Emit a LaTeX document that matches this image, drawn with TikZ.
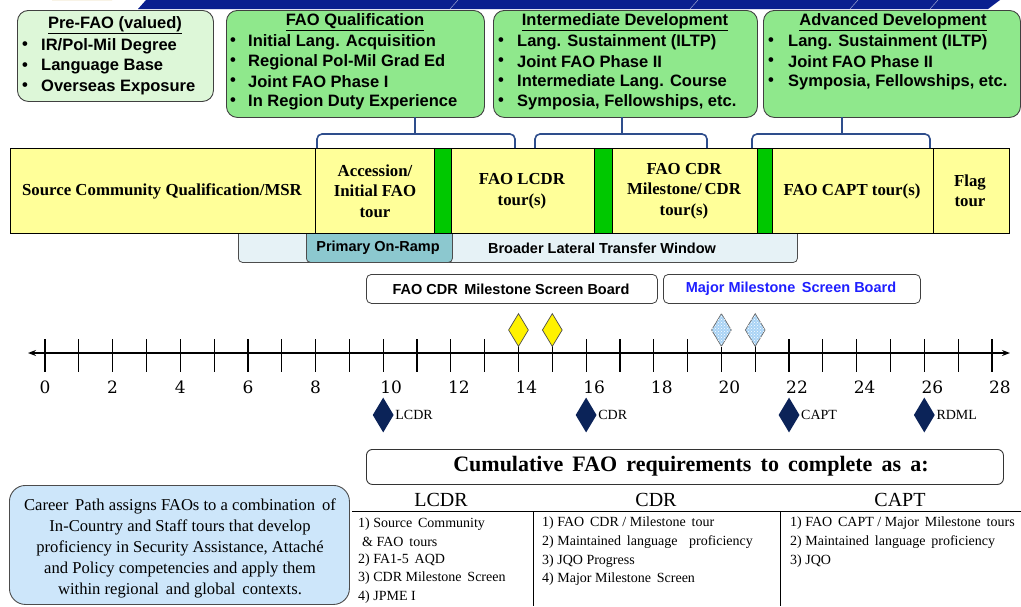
\documentclass[tikz,border=0pt]{standalone}
\usepackage{fontspec}
\setmainfont{Liberation Serif}
\newfontfamily\arial{Liberation Sans}
\newfontfamily\slab{DejaVu Serif}
\usetikzlibrary{shapes.geometric,patterns,arrows.meta}
\definecolor{prefaofill}{HTML}{DDF7D8}
\definecolor{faogreen}{HTML}{8FE88C}
\definecolor{baryellow}{HTML}{FFFF99}
\definecolor{bargreen}{HTML}{00C800}
\definecolor{bracecol}{HTML}{2E4D8C}
\definecolor{latfill}{HTML}{E6F2F6}
\definecolor{onramp}{HTML}{8CC8CF}
\definecolor{navy}{HTML}{0B2358}
\definecolor{pathblue}{HTML}{CDE6FA}
\definecolor{boardblue}{HTML}{1F1FFF}
\definecolor{hatchblue}{HTML}{A9D3F5}
\definecolor{bannerblue}{HTML}{0A1F8F}
\definecolor{gold}{HTML}{C9A43A}
\begin{document}
\begin{tikzpicture}[x=1pt,y=-1pt,
  topbox/.style={draw=black!75, line width=0.9pt, rounded corners=11pt, anchor=north west, inner sep=0pt},
  boxtitle/.style={font=\arial\bfseries\fontsize{16.5}{18}\selectfont, inner sep=0pt},
  bul/.style={font=\arial\bfseries\fontsize{16.5}{18}\selectfont, inner sep=0pt},
  itemtxt/.style={font=\arial\bfseries\fontsize{16.5}{18}\selectfont, anchor=west, inner sep=0pt},
  seg/.style={draw=black, line width=1pt, fill=baryellow, anchor=north west, inner sep=0pt, minimum height=85pt},
  gseg/.style={draw=black, line width=1pt, fill=bargreen, anchor=north west, inner sep=0pt, minimum height=85pt},
  segtxt/.style={font=\bfseries\fontsize{16.8}{20.5}\selectfont, align=center, inner sep=0pt},
  brace/.style={draw=bracecol, line width=1.6pt, rounded corners=5pt},
  ramp/.style={draw=black!70, line width=0.8pt, rounded corners=4pt, anchor=north west, inner sep=0pt},
  ramptxt/.style={font=\arial\bfseries\fontsize{14.5}{16}\selectfont, inner sep=0pt},
  board/.style={draw=black!75, line width=0.8pt, rounded corners=5pt, anchor=north west, inner sep=0pt, minimum height=29pt},
  boardtxt/.style={font=\arial\bfseries\fontsize{14.5}{16}\selectfont, inner sep=0pt},
  ticklbl/.style={font=\slab\fontsize{17}{18}\selectfont, inner sep=0pt},
  ydiam/.style={diamond, draw=black!70, line width=0.7pt, fill=yellow, inner sep=0pt, minimum width=20pt, minimum height=33pt},
  bdiam/.style={diamond, draw=black!60, line width=0.7pt, fill=hatchblue, inner sep=0pt, minimum width=20pt, minimum height=33pt},
  ndiam/.style={diamond, fill=navy, inner sep=0pt, minimum width=21pt, minimum height=35pt},
  rank/.style={font=\fontsize{14}{16}\selectfont, anchor=west, inner sep=0pt},
  colhead/.style={font=\fontsize{20}{22}\selectfont, inner sep=0pt},
  req/.style={font=\fontsize{14}{15}\selectfont, anchor=west, inner sep=0pt},
]
\useasboundingbox (0,0) rectangle (1021,606);
\fill[white] (0,0) rectangle (1021,606);

% ---------- banner remnant ----------
\fill[gold] (52,0) arc[start angle=180, end angle=360, x radius=30pt, y radius=-6pt] -- cycle;
\fill[bannerblue] (138,9) -- (146,0) -- (1000,0) -- (988,9) -- cycle;
\draw[white!60!bannerblue, line width=0.5pt] (450,9) -- (458,0) (690,9) -- (698,0) (850,9) -- (858,0) (930,9) -- (938,0);

% ---------- top boxes ----------
\node[topbox, fill=prefaofill, minimum width=196pt, minimum height=91pt] (prefao) at (17,10) {};
\node[boxtitle] (prefaoT) at (115,25) {\underline{Pre-FAO (valued)}};
\foreach \y/\t [count=\i] in {46/{IR/Pol-Mil Degree}, 67/Language Base, 87/Overseas Exposure}{
  \node[bul] (pb\i) at (25,\y) {•};
  \node[itemtxt] (pi\i) at (41,\y) {\t};
}

\node[topbox, fill=faogreen, minimum width=258pt, minimum height=107pt] (faoq) at (226,10) {};
\node[boxtitle] (faoqT) at (355,22) {\underline{FAO Qualification}};
\foreach \y/\t [count=\i] in {42/Initial Lang. Acquisition, 62/Regional Pol-Mil Grad Ed, 82/Joint FAO Phase I, 102/In Region Duty Experience}{
  \node[bul] (qb\i) at (233,\y) {•};
  \node[itemtxt] (qi\i) at (248,\y) {\t};
}

\node[topbox, fill=faogreen, minimum width=264pt, minimum height=107pt] (inter) at (493,10) {};
\node[boxtitle] (interT) at (625,22) {\underline{Intermediate Development}};
\foreach \y/\t [count=\i] in {42/Lang. Sustainment (ILTP), 62/Joint FAO Phase II, 82/Intermediate Lang. Course, 102/{Symposia, Fellowships, etc.}}{
  \node[bul] (ib\i) at (501,\y) {•};
  \node[itemtxt] (ii\i) at (517,\y) {\t};
}

\node[topbox, fill=faogreen, minimum width=257pt, minimum height=107pt] (adv) at (763,10) {};
\node[boxtitle] (advT) at (893,22) {\underline{Advanced Development}};
\foreach \y/\t [count=\i] in {42/Lang. Sustainment (ILTP), 62/Joint FAO Phase II, 82/{Symposia, Fellowships, etc.}}{
  \node[bul] (ab\i) at (771,\y) {•};
  \node[itemtxt] (ai\i) at (788,\y) {\t};
}

% ---------- lateral transfer window (under bar) ----------
\node[ramp, fill=latfill, minimum width=559pt, minimum height=38pt] (lateral) at (238,224) {};
\node[ramp, fill=onramp, minimum width=146pt, minimum height=38pt] (onramp) at (306,224) {};
\node[ramptxt] (onrampT) at (378,248) {Primary On-Ramp};
\node[ramptxt] (lateralT) at (602,248) {Broader Lateral Transfer Window};

% ---------- career bar ----------
\node[seg, minimum width=305pt] (s1) at (10,148) {};
\node[seg, minimum width=119pt] (s2) at (315,148) {};
\node[gseg, minimum width=17pt] (g1) at (434,148) {};
\node[seg, minimum width=143pt] (s3) at (451,148) {};
\node[gseg, minimum width=18pt] (g2) at (594,148) {};
\node[seg, minimum width=145pt] (s4) at (612,148) {};
\node[gseg, minimum width=15pt] (g3) at (757,148) {};
\node[seg, minimum width=161pt] (s5) at (772,148) {};
\node[seg, minimum width=76pt] (s6) at (933,148) {};
\node[segtxt] (t1) at (162,191) {Source Community Qualification/MSR};
\node[segtxt] (t2) at (375,191) {Accession/\\Initial FAO\\tour};
\node[segtxt] (t3) at (522,191) {FAO LCDR\\tour(s)};
\node[segtxt] (t4) at (684,191) {FAO CDR\\Milestone/\,CDR\\tour(s)};
\node[segtxt] (t5) at (852,191) {FAO CAPT tour(s)};
\node[segtxt] (t6) at (970,191) {Flag\\tour};

% ---------- braces ----------
\coordinate (b1l) at (317,148); \coordinate (b1r) at (515,148); \coordinate (b1t) at (415,117);
\coordinate (b2l) at (535,148); \coordinate (b2r) at (707,148); \coordinate (b2t) at (622,117);
\coordinate (b3l) at (752,148); \coordinate (b3r) at (930,148); \coordinate (b3t) at (842,117);
\foreach \k in {1,2,3}{
  \draw[brace] (b\k l) -- (b\k l |- 0,134) -- (b\k r |- 0,134) -- (b\k r);
  \draw[bracecol, line width=1.6pt] (b\k t) -- (b\k t |- 0,134);
}

% ---------- screen boards ----------
\node[board, minimum width=291pt] (cdrboard) at (366,274) {};
\node[boardtxt] (cdrboardT) at (511,289) {FAO CDR\, Milestone Screen Board};
\node[board, minimum width=257pt] (majboard) at (663,274) {};
\node[boardtxt, text=boardblue] (majboardT) at (791,289) {Major Milestone\, Screen Board};

% ---------- axis ----------
\coordinate (axL) at (28,353); \coordinate (axR) at (1010,353);
\draw[line width=1.6pt, -{Stealth[length=8pt,width=6pt]}] (axL -| 40,0) -- (axR);
\draw[line width=1.6pt, -{Stealth[length=8pt,width=6pt]}] (axR -| 990,0) -- (axL);
\foreach \t in {0,...,28}{
  \draw[line width=1.2pt] ({45+33.82*\t},339) -- ({45+33.82*\t},372);
}
\foreach \t in {0,2,4,6,8}{
  \node[ticklbl] (n\t) at ({45+33.82*\t},387) {\t};
}
\foreach \t in {10,12,...,28}{
  \node[ticklbl] (n\t) at ({53+33.82*\t},387) {\t};
}

% milestone diamonds
\node[ydiam] (y14) at ({45+33.82*14},330) {};
\node[ydiam] (y15) at ({45+33.82*15},330) {};
\node[bdiam] (h20) at ({45+33.82*20},330) {};
\node[bdiam] (h21) at ({45+33.82*21},330) {};
\foreach \n in {h20,h21}{
  \path[pattern=crosshatch dots, pattern color=white] (\n.north) -- (\n.east) -- (\n.south) -- (\n.west) -- cycle;
}
\foreach \t/\r in {10/LCDR,16/CDR,22/CAPT,26/RDML}{
  \node[ndiam] (r\t) at ({45+33.82*\t},415) {};
  \node[rank] (rl\t) at ({57+33.82*\t},415) {\r};
}

% ---------- cumulative requirements ----------
\node[draw=black!80, line width=0.9pt, rounded corners=6pt, anchor=north west, inner sep=0pt, minimum width=637pt, minimum height=35pt] (cum) at (366,449) {};
\node[font=\bfseries\fontsize{22}{24}\selectfont, inner sep=0pt] (cumT) at (691,466) {Cumulative\, FAO\, requirements\, to\, complete\, as\, a:};
\node[colhead] (hL) at (441,500) {LCDR};
\node[colhead] (hC) at (656,500) {CDR};
\node[colhead] (hP) at (900,500) {CAPT};
\coordinate (tl) at (352,511); \coordinate (tr) at (1021,511);
\coordinate (v1t) at (533,511); \coordinate (v1b) at (533,606);
\coordinate (v2t) at (780,511); \coordinate (v2b) at (780,606);
\draw[line width=0.9pt] (tl) -- (tr);
\draw[line width=0.9pt] (v1t) -- (v1b);
\draw[line width=0.9pt] (v2t) -- (v2b);
\node[req] (l1) at (358,524) {1) Source\, Community};
\node[req] (l1b) at (362,542) {\& FAO\, tours};
\node[req] (l2) at (358,560) {2) FA1-5\, AQD};
\node[req] (l3) at (358,578) {3) CDR Milestone\, Screen};
\node[req] (l4) at (358,597) {4) JPME I};
\node[req] (c1) at (542,523) {1) FAO\, CDR / Milestone\, tour};
\node[req] (c2) at (542,542) {2) Maintained\, language\, \, proficiency};
\node[req] (c3) at (542,561) {3) JQO Progress};
\node[req] (c4) at (542,579) {4) Major Milestone\, Screen};
\node[req] (p1) at (790,523) {1) FAO\, CAPT / Major\, Milestone\, tours};
\node[req] (p2) at (790,542) {2) Maintained\, language\, proficiency};
\node[req] (p3) at (790,561) {3) JQO};

% ---------- career path note ----------
\node[draw=black!70, line width=0.9pt, fill=pathblue, rounded corners=16pt, anchor=north west, inner sep=0pt, minimum width=340pt, minimum height=119pt] (note) at (9,485) {};
\node[font=\fontsize{16.6}{21}\selectfont, align=center, inner sep=0pt] (noteT) at (180,548) {Career\, Path assigns FAOs to a combination\, of\\In-Country and Staff tours that develop\\proficiency in Security Assistance, Attaché\\and Policy competencies and apply them\\within regional\, and global\, contexts.};
\end{tikzpicture}
\end{document}
